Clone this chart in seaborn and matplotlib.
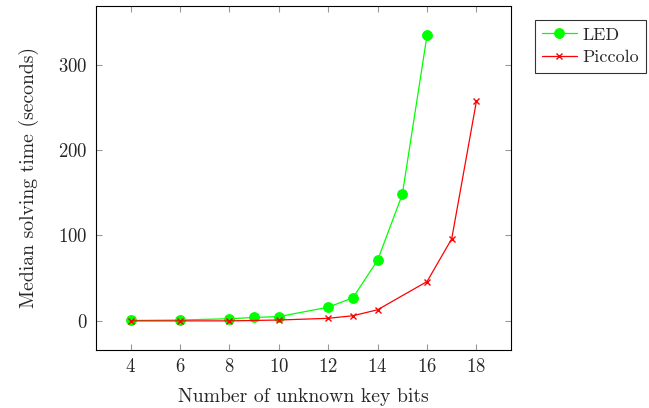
import pandas as pd
import seaborn as sns
import matplotlib.pyplot as plt

# data
led_bits = [4, 6, 8, 9, 10, 12, 13, 14, 15, 16]
led_time = [0.5, 1, 2.5, 4, 5, 16, 27, 71, 148, 334]
piccolo_bits = [4, 6, 8, 10, 12, 13, 14, 16, 17, 18]
piccolo_time = [0, 0, 0, 1, 3, 6, 13, 46, 96, 257]
x_ticks = [4, 6, 8, 10, 12, 14, 16, 18]
y_ticks = [0, 100, 200, 300]

led = pd.DataFrame({'bits': led_bits, 'time': led_time})
piccolo = pd.DataFrame({'bits': piccolo_bits, 'time': piccolo_time})

sns.set_style('white')
plt.rcParams['font.family'] = 'serif'
plt.rcParams['font.serif'] = ['cmr10', 'DejaVu Serif']
plt.rcParams['axes.formatter.use_mathtext'] = True

fig = plt.figure(figsize=(6.49, 4.08), dpi=100)
ax = fig.add_axes([96 / 649, 1 - 349.5 / 408, 415 / 649, 343.5 / 408])

sns.lineplot(data=led, x='bits', y='time', color='#00ff00', marker='o',
             markersize=7, markeredgecolor='#00ff00', linewidth=0.9,
             label='LED', ax=ax)
sns.lineplot(data=piccolo, x='bits', y='time', color='#ff0000', marker='x',
             markersize=5, markeredgecolor='#ff0000', markeredgewidth=1.0,
             linewidth=0.9, label='Piccolo', ax=ax)

ax.set_xlim(2.6, 19.4)
ax.set_ylim(-33.5, 368.5)
ax.set_xticks(x_ticks)
ax.set_yticks(y_ticks)
ax.tick_params(direction='in', length=4, color='#999999', labelsize=13.5,
               top=True, right=True, bottom=True, left=True, pad=6)
for s in ax.spines.values():
    s.set_color('black')
    s.set_linewidth(0.8)
ax.set_xlabel('Number of unknown key bits', fontsize=14.2, labelpad=9)
ax.set_ylabel('Median solving time (seconds)', fontsize=14.2, labelpad=14)

leg = ax.legend(loc='upper left', bbox_to_anchor=(1.058, 0.96), fontsize=13,
                frameon=True, fancybox=False, edgecolor='black',
                borderpad=0.4, borderaxespad=0, handlelength=1.9,
                handletextpad=0.3, labelspacing=0.4)
leg.get_frame().set_linewidth(0.8)

fig.savefig('out.png', dpi=100)
